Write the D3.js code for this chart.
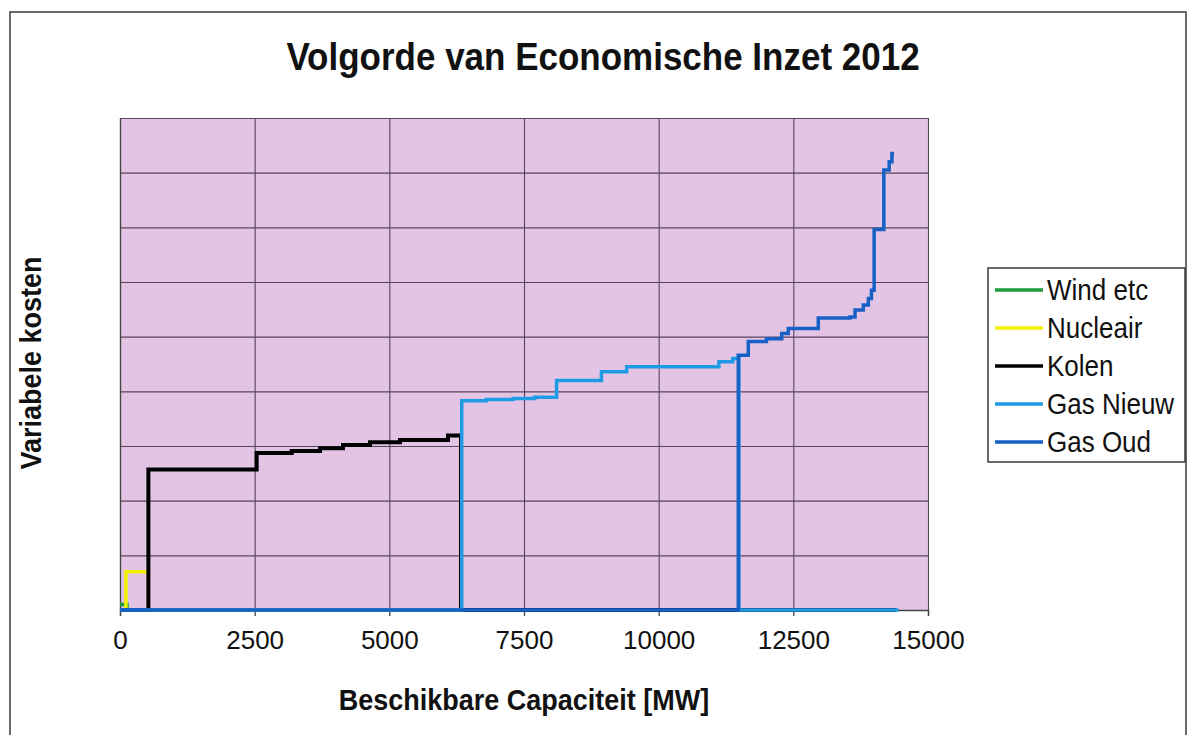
<!DOCTYPE html>
<html>
<head>
<meta charset="utf-8">
<script src="https://cdn.jsdelivr.net/npm/d3@7"></script>
<style>
  html, body { margin: 0; padding: 0; background: #ffffff; }
  svg { display: block; font-family: "Liberation Sans", Arial, Helvetica, sans-serif; }
</style>
</head>
<body>
<svg id="chart" width="1189" height="735"></svg>
<script>
// ---- Data ----
const title = "Volgorde van Economische Inzet 2012";
const xTitle = "Beschikbare Capaciteit [MW]";
const yTitle = "Variabele kosten";
const xTicks = [0, 2500, 5000, 7500, 10000, 12500, 15000];
const yTicks = [0, 10, 20, 30, 40, 50, 60, 70, 80, 90];

const seriesNames = ["Wind etc", "Nucleair", "Kolen", "Gas Nieuw", "Gas Oud"];
const seriesColors = ["#1f9a3a", "#f2f200", "#000000", "#1e9be4", "#1660c6"];

const windX = [0, 130, 14400];
const windY = [1, 0, 0];

const nucleairX = [0, 110, 525, 14400];
const nucleairY = [0, 7, 0, 0];

const kolenX = [0, 527, 2537, 3187, 3713, 4140, 4641, 5198, 6089, 6330, 14400];
const kolenY = [0, 25.7, 28.7, 29.1, 29.6, 30.2, 30.7, 31.1, 31.9, 0, 0];

const gasNieuwX = [0, 6344, 6800, 7300, 7700, 8105, 8938, 9406, 11118, 11375, 11490, 14450];
const gasNieuwY = [0, 38.3, 38.5, 38.7, 38.9, 42.0, 43.6, 44.5, 45.4, 46.0, 0, 0];

const gasOudX = [0, 11478, 11664, 12000, 12284, 12406, 12963, 13552, 13645, 13799, 13892, 13950, 14000, 14180, 14280, 14330, 14370];
const gasOudY = [0, 46.6, 49.1, 49.6, 50.6, 51.5, 53.4, 53.6, 54.9, 55.8, 57.0, 58.5, 69.6, 80.5, 82.0, 83.5, 83.5];

const seriesX = [windX, nucleairX, kolenX, gasNieuwX, gasOudX];
const seriesY = [windY, nucleairY, kolenY, gasNieuwY, gasOudY];

// ---- Layout ----
const svg = d3.select("#chart");
const plot = { left: 120, top: 118, right: 928, bottom: 610 };
const x = d3.scaleLinear().domain([0, 15000]).range([plot.left, plot.right]);
const y = d3.scaleLinear().domain([0, 90]).range([plot.bottom, plot.top]);

function stretchedText(g, tx, ty, str, sy) {
  return g.append("text")
    .attr("transform", `translate(${tx},${ty}) scale(1,${sy})`)
    .text(str);
}

// outer chart border
svg.append("rect")
  .attr("x", 10).attr("y", 12).attr("width", 1176).attr("height", 740)
  .attr("fill", "#ffffff").attr("stroke", "#3a3a3a").attr("stroke-width", 1.5);

// plot background
svg.append("rect")
  .attr("x", plot.left).attr("y", plot.top)
  .attr("width", plot.right - plot.left).attr("height", plot.bottom - plot.top)
  .attr("fill", "#e3c4e4");

// gridlines
const grid = svg.append("g").attr("class", "grid");
grid.append("g")
  .attr("transform", `translate(0,${plot.bottom})`)
  .call(d3.axisBottom(x).tickValues(xTicks).tickSize(-(plot.bottom - plot.top)).tickFormat(""))
  .call(g => g.select(".domain").remove())
  .call(g => g.selectAll("line").attr("stroke", "#55465a").attr("stroke-width", 1.1));
grid.append("g")
  .attr("transform", `translate(${plot.left},0)`)
  .call(d3.axisLeft(y).tickValues(yTicks).tickSize(-(plot.right - plot.left)).tickFormat(""))
  .call(g => g.select(".domain").remove())
  .call(g => g.selectAll("line").attr("stroke", "#55465a").attr("stroke-width", 1.1));

// axes
const xAxis = svg.append("g")
  .attr("transform", `translate(0,${plot.bottom})`)
  .call(d3.axisBottom(x).tickValues(xTicks).tickSize(6).tickPadding(10).tickFormat(d3.format("d")));
xAxis.select(".domain").attr("stroke", "#444").attr("stroke-width", 1.3);
xAxis.selectAll(".tick line").attr("stroke", "#444").attr("stroke-width", 1.3);
xAxis.selectAll(".tick text")
  .attr("font-size", 26).attr("fill", "#111")
  .attr("font-family", '"Liberation Sans", Arial, sans-serif')
  .attr("dy", "0.9em");

const yAxis = svg.append("g")
  .attr("transform", `translate(${plot.left},0)`)
  .call(d3.axisLeft(y).tickValues(yTicks).tickSize(0).tickFormat(""));
yAxis.select(".domain").attr("stroke", "#444").attr("stroke-width", 1.3);

// series lines (step shaped)
const line = d3.line()
  .x(d => x(d[0]))
  .y(d => y(d[1]))
  .curve(d3.curveStepAfter);

const lines = svg.append("g").attr("class", "series");
seriesNames.forEach((name, i) => {
  const pts = seriesX[i].map((xv, j) => [xv, seriesY[i][j]]);
  lines.append("path")
    .datum(pts)
    .attr("d", line)
    .attr("fill", "none")
    .attr("stroke", seriesColors[i])
    .attr("stroke-width", i === 2 ? 4 : 3.5)
    .attr("stroke-linejoin", "miter")
    .attr("stroke-linecap", "butt");
});

// title
stretchedText(svg, 603, 70, title, 1.1)
  .attr("text-anchor", "middle").attr("font-size", 35).attr("font-weight", "bold").attr("fill", "#111");

// x axis title
stretchedText(svg, 524, 710, xTitle, 1.1)
  .attr("text-anchor", "middle").attr("font-size", 27).attr("font-weight", "bold").attr("fill", "#111");

// y axis title
svg.append("text")
  .attr("transform", `translate(41,363) rotate(-90) scale(1,1.1)`)
  .attr("text-anchor", "middle").attr("font-size", 27).attr("font-weight", "bold").attr("fill", "#111")
  .text(yTitle);

// legend
const legend = svg.append("g").attr("class", "legend");
legend.append("rect")
  .attr("x", 988).attr("y", 268).attr("width", 197).attr("height", 194)
  .attr("fill", "#ffffff").attr("stroke", "#3a3a3a").attr("stroke-width", 1.5);
seriesNames.forEach((name, i) => {
  const cy = 290 + i * 38;
  legend.append("line")
    .attr("x1", 995).attr("x2", 1043).attr("y1", cy).attr("y2", cy)
    .attr("stroke", seriesColors[i]).attr("stroke-width", 3.5);
  stretchedText(legend, 1047, cy + 9.5, name, 1.1)
    .attr("font-size", 26).attr("fill", "#111");
});
</script>
</body>
</html>
